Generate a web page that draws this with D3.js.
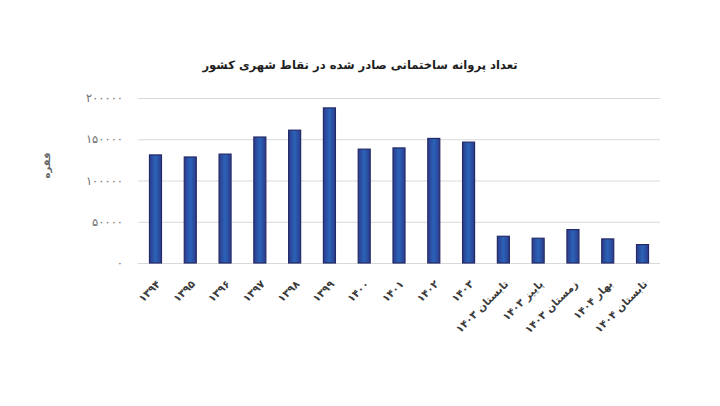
<!DOCTYPE html>
<html><head><meta charset="utf-8">
<script src="https://cdn.jsdelivr.net/npm/d3@7/dist/d3.min.js"></script>
<style>
html,body{margin:0;padding:0;background:#fff;}
svg{display:block;font-family:"DejaVu Sans",sans-serif;}
</style></head>
<body>
<script>
const titleText = "تعداد پروانه ساختمانی صادر شده در نقاط شهری کشور";
const yLabel = "فقره";
const categories = ["۱۳۹۴","۱۳۹۵","۱۳۹۶","۱۳۹۷","۱۳۹۸","۱۳۹۹","۱۴۰۰","۱۴۰۱","۱۴۰۲","۱۴۰۳",
  "تابستان ۱۴۰۳","پاییز ۱۴۰۳","زمستان ۱۴۰۳","بهار ۱۴۰۴","تابستان ۱۴۰۴"];
const values = [131000,128500,132000,152700,161000,188000,138000,139500,151000,146500,32400,30000,40500,29200,22300];
const yTicks = [0,50000,100000,150000,200000];

const W=720,H=406;
const margin={left:138,right:60,top:98,bottom:143};
const svg=d3.select("body").append("svg").attr("width",W).attr("height",H);
const fa=n=>String(n).replace(/\d/g,d=>"۰۱۲۳۴۵۶۷۸۹"[d]);

const x=d3.scaleBand().domain(categories).range([margin.left,W-margin.right]).paddingInner(0.655).paddingOuter(0.33);
const y=d3.scaleLinear().domain([0,200000]).range([H-margin.bottom,margin.top]);

// grid
const yAxis=d3.axisLeft(y).tickValues(yTicks).tickSize(-(W-margin.right-margin.left)).tickFormat(fa).tickPadding(15);
const gy=svg.append("g").attr("transform",`translate(${margin.left},0)`).call(yAxis);
gy.select(".domain").remove();
gy.selectAll(".tick line").attr("stroke","#d9d9d9").attr("stroke-width",1);
gy.selectAll(".tick text").attr("fill","#6f6f6f").attr("font-size",11.5).attr("font-family","DejaVu Sans");

// gradient
const defs=svg.append("defs");
const grad=defs.append("linearGradient").attr("id","bg").attr("x1","0").attr("x2","1").attr("y1","0").attr("y2","0");
grad.append("stop").attr("offset","0").attr("stop-color","#2c3c8e");
grad.append("stop").attr("offset","0.5").attr("stop-color","#2a63b8");
grad.append("stop").attr("offset","1").attr("stop-color","#2c3c8e");

svg.append("g").selectAll("rect").data(values).join("rect")
  .attr("x",(d,i)=>x(categories[i]))
  .attr("y",d=>y(d))
  .attr("width",x.bandwidth())
  .attr("height",d=>y(0)-y(d))
  .attr("fill","url(#bg)")
  .attr("stroke","#242a66").attr("stroke-width",1.2);

// x labels
const xAxis=d3.axisBottom(x).tickSize(0).tickPadding(0);
const gx=svg.append("g").attr("transform",`translate(0,${y(0)})`).call(xAxis);
gx.select(".domain").remove();
gx.selectAll(".tick text")
  .attr("font-size",10.5).attr("font-weight","bold").attr("fill","#3a3a3a")
  .attr("font-family","DejaVu Sans")
  .attr("text-anchor","end")
  .attr("dy","0.35em")
  .attr("transform","translate(3,19) rotate(-45)");

// title
svg.append("text").attr("x",360).attr("y",69).attr("text-anchor","middle")
  .attr("font-size",11.6).attr("font-weight","bold").attr("fill","#1e1e1e").text(titleText);

// y label
svg.append("text").attr("transform",`translate(50,${(y(0)+y(200000))/2-15}) rotate(-90)`)
  .attr("text-anchor","middle").attr("font-size",10).attr("font-weight","bold").attr("fill","#666").text(yLabel);
</script>
</body></html>
